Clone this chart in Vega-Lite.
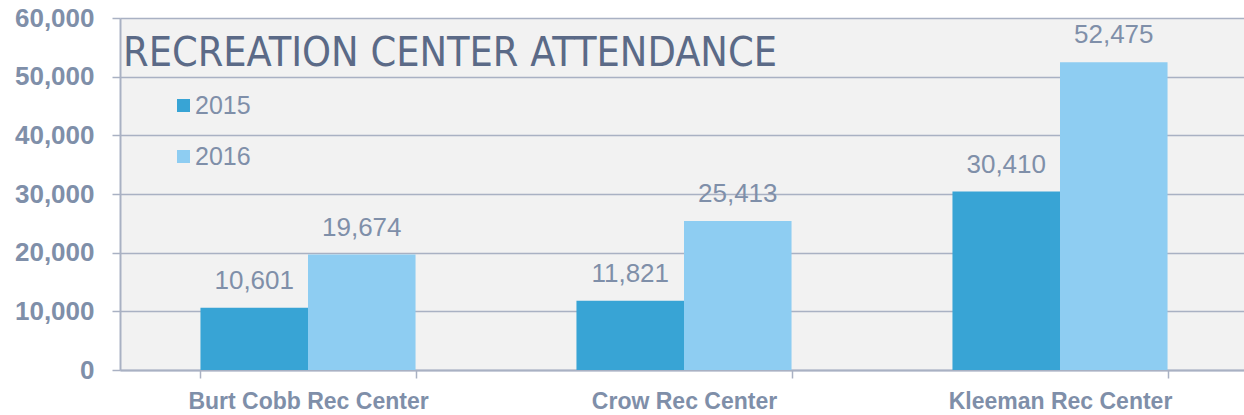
{
  "$schema": "https://vega.github.io/schema/vega-lite/v6.json",
  "width": 1128,
  "height": 352,
  "autosize": {"type": "none"},
  "padding": {"left": 120, "top": 18, "right": 0, "bottom": 45},
  "background": "white",
  "config": {
    "view": {"fill": "#f2f2f2", "stroke": null},
    "font": "Liberation Sans"
  },
  "data": {
    "values": [
      {"center": "Burt Cobb Rec Center", "year": "2015", "attendance": 10601},
      {"center": "Burt Cobb Rec Center", "year": "2016", "attendance": 19674},
      {"center": "Crow Rec Center", "year": "2015", "attendance": 11821},
      {"center": "Crow Rec Center", "year": "2016", "attendance": 25413},
      {"center": "Kleeman Rec Center", "year": "2015", "attendance": 30410},
      {"center": "Kleeman Rec Center", "year": "2016", "attendance": 52475}
    ]
  },
  "encoding": {
    "x": {
      "field": "center",
      "type": "nominal",
      "sort": null,
      "scale": {"paddingInner": 0.428, "paddingOuter": 0.214},
      "axis": {
        "title": null,
        "labelAngle": 0,
        "labelLimit": 0,
        "labelFont": "Liberation Sans",
        "labelFontSize": 23,
        "labelFontWeight": "bold",
        "labelColor": "#7f8fa9",
        "labelPadding": 12,
        "tickBand": "extent",
        "tickSize": 8,
        "tickColor": "#a9b1c3",
        "domainColor": "#a9b1c3",
        "domainWidth": 2,
        "tickWidth": 1.5,
        "grid": false
      }
    },
    "xOffset": {"field": "year", "type": "nominal", "scale": {"paddingInner": 0, "paddingOuter": 0}},
    "y": {
      "field": "attendance",
      "type": "quantitative",
      "scale": {"domain": [0, 60000], "nice": false},
      "axis": {
        "title": null,
        "values": [0, 10000, 20000, 30000, 40000, 50000, 60000],
        "format": ",d",
        "labelFont": "Liberation Sans",
        "labelFontSize": 26,
        "labelFontWeight": "bold",
        "labelColor": "#7f8fa9",
        "labelPadding": 18,
        "tickSize": 8,
        "tickColor": "#a9b1c3",
        "tickWidth": 1.5,
        "domainColor": "#a9b1c3",
        "domainWidth": 2,
        "gridColor": "#a9b1c3",
        "gridWidth": 1.5
      }
    }
  },
  "layer": [
    {
      "mark": {"type": "bar"},
      "encoding": {
        "color": {
          "field": "year",
          "type": "nominal",
          "scale": {"domain": ["2015", "2016"], "range": ["#38a4d5", "#8ecdf2"]},
          "legend": {
            "title": "RECREATION CENTER ATTENDANCE",
            "titleFont": "DejaVu Sans Condensed",
            "titleFontSize": 41,
            "titleFontWeight": "normal",
            "titleColor": "#5b6a87",
            "titleLimit": 0,
            "titleBaseline": "top",
            "titlePadding": 18,
            "orient": "none",
            "legendX": 3,
            "legendY": 16,
            "symbolOffset": 48,
            "symbolType": "square",
            "symbolSize": 169,
            "symbolStrokeWidth": 0,
            "symbolOpacity": 1,
            "labelFont": "Liberation Sans",
            "labelFontSize": 25,
            "labelColor": "#7f8fa9",
            "labelOffset": -1,
            "rowPadding": 25
          }
        }
      }
    },
    {
      "mark": {"type": "text", "baseline": "alphabetic", "dy": -19, "font": "Liberation Sans", "fontSize": 26, "color": "#7f8fa9"},
      "encoding": {
        "text": {"field": "attendance", "type": "quantitative", "format": ",d"}
      }
    }
  ]
}
